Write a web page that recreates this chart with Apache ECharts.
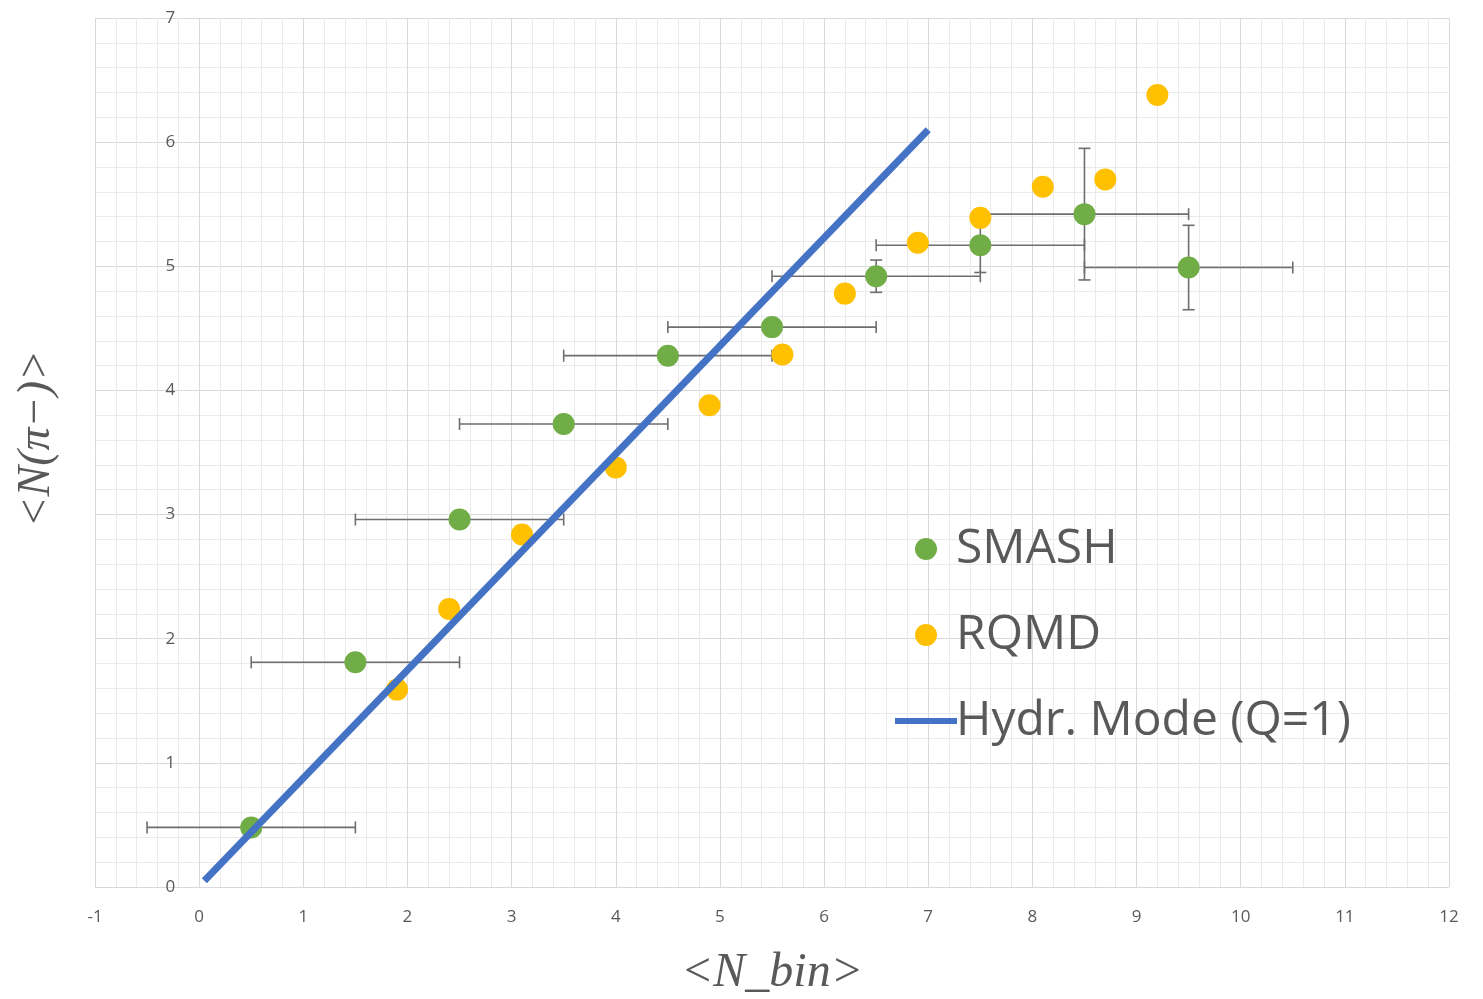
<!DOCTYPE html>
<html>
<head>
<meta charset="utf-8">
<script src="https://cdn.jsdelivr.net/npm/echarts@6/dist/echarts.min.js"></script>
<style>
html, body { margin: 0; padding: 0; background: #fff; }
#chart { width: 1483px; height: 999px; }
</style>
</head>
<body>
<div id="chart"></div>
<script>
// SMASH: bin centres, <N(pi-)>, x and y errors
var smashX = [0.5, 1.5, 2.5, 3.5, 4.5, 5.5, 6.5, 7.5, 8.5, 9.5];
var smashY = [0.48, 1.81, 2.96, 3.73, 4.28, 4.51, 4.92, 5.17, 5.42, 4.99];
var smashXErr = [1, 1, 1, 1, 1, 1, 1, 1, 1, 1];
var smashYErr = [0, 0, 0, 0, 0, 0, 0.13, 0.22, 0.53, 0.34];

// RQMD
var rqmdX = [1.9, 2.4, 3.1, 4.0, 4.9, 5.6, 6.2, 6.9, 7.5, 8.1, 8.7, 9.2];
var rqmdY = [1.59, 2.24, 2.84, 3.38, 3.88, 4.29, 4.78, 5.19, 5.39, 5.64, 5.70, 6.38];

// hydro model line
var hydroX = [0.05, 7];
var hydroY = [0.05, 6.1];

var myChart = echarts.init(document.getElementById('chart'));

var zip = function (xs, ys) {
    return xs.map(function (x, i) { return [x, ys[i]]; });
};
var errData = smashX.map(function (x, i) {
    return [x, smashY[i], smashXErr[i], smashYErr[i]];
});

var txt = '#595959';
var font = '"Open Sans", sans-serif';
var serif = '"Liberation Serif", "DejaVu Serif", serif';

// y axis sits on x = 0, one x-unit in from the left edge of the grid
var gridW = 1483 - 95 - 34;
var yAxisShift = gridW / 13;

option = {
    animation: false,
    backgroundColor: '#fff',
    grid: { left: 95, right: 34, top: 18, bottom: 112, outerBoundsMode: 'none', containLabel: false },
    legend: {
        orient: 'vertical',
        left: 887,
        top: 520,
        itemWidth: 62,
        itemHeight: 22,
        itemGap: 38,
        textStyle: { color: txt, fontSize: 48, fontFamily: font, padding: [0, 0, 0, -6] },
        data: [
            'SMASH',
            'RQMD',
            { name: 'Hydr. Mode (Q=1)', itemStyle: { opacity: 0 }, lineStyle: { width: 6 } }
        ]
    },
    xAxis: {
        type: 'value',
        min: -1, max: 12, interval: 1,
        name: '<N_bin>',
        nameLocation: 'middle',
        nameGap: 62,
        nameTextStyle: { color: txt, fontSize: 48, fontStyle: 'italic', fontFamily: serif },
        axisLine: { show: false },
        axisTick: { show: false },
        axisLabel: { color: txt, fontSize: 17, margin: 22, fontFamily: font },
        splitLine: { lineStyle: { color: '#d9d9d9', width: 1 } },
        minorTick: { show: false, splitNumber: 5 },
        minorSplitLine: { show: true, lineStyle: { color: '#eaeaea', width: 1 } }
    },
    yAxis: {
        type: 'value',
        min: 0, max: 7, interval: 1,
        position: 'left',
        offset: -yAxisShift,
        axisLine: { show: false, onZero: false },
        axisTick: { show: false },
        axisLabel: { color: txt, fontSize: 17, margin: 24, fontFamily: font },
        splitLine: { lineStyle: { color: '#d9d9d9', width: 1 } },
        minorTick: { show: false, splitNumber: 5 },
        minorSplitLine: { show: true, lineStyle: { color: '#eaeaea', width: 1 } }
    },
    graphic: [{
        type: 'text',
        left: 14,
        top: 350,
        rotation: Math.PI / 2,
        style: {
            text: '<N(\u03c0\u2212)>',
            fill: txt,
            font: 'italic 46px "Liberation Serif", "DejaVu Serif", serif'
        }
    }],
    series: [
        {
            type: 'custom',
            name: 'err',
            z: 1,
            renderItem: function (params, api) {
                var x = api.value(0), y = api.value(1), xe = api.value(2), ye = api.value(3);
                var st = { stroke: '#6e6e6e', lineWidth: 1.6 };
                var l = api.coord([x - xe, y]), r = api.coord([x + xe, y]);
                var kids = [
                    { type: 'line', shape: { x1: l[0], y1: l[1], x2: r[0], y2: r[1] }, style: st },
                    { type: 'line', shape: { x1: l[0], y1: l[1] - 6, x2: l[0], y2: l[1] + 6 }, style: st },
                    { type: 'line', shape: { x1: r[0], y1: r[1] - 6, x2: r[0], y2: r[1] + 6 }, style: st }
                ];
                if (ye > 0) {
                    var t = api.coord([x, y + ye]), b = api.coord([x, y - ye]);
                    kids.push(
                        { type: 'line', shape: { x1: t[0], y1: t[1], x2: b[0], y2: b[1] }, style: st },
                        { type: 'line', shape: { x1: t[0] - 6, y1: t[1], x2: t[0] + 6, y2: t[1] }, style: st },
                        { type: 'line', shape: { x1: b[0] - 6, y1: b[1], x2: b[0] + 6, y2: b[1] }, style: st }
                    );
                }
                return { type: 'group', children: kids };
            },
            data: errData
        },
        {
            name: 'SMASH',
            type: 'scatter',
            z: 2,
            symbolSize: 22,
            itemStyle: { color: '#70ad47', opacity: 1 },
            data: zip(smashX, smashY)
        },
        {
            name: 'RQMD',
            type: 'scatter',
            z: 3,
            symbolSize: 22,
            itemStyle: { color: '#ffc000', opacity: 1 },
            data: zip(rqmdX, rqmdY)
        },
        {
            name: 'Hydr. Mode (Q=1)',
            type: 'line',
            z: 4,
            showSymbol: false,
            symbol: 'none',
            lineStyle: { color: '#4472c4', width: 7 },
            itemStyle: { color: '#4472c4' },
            data: zip(hydroX, hydroY)
        }
    ]
};
myChart.setOption(option);
</script>
</body>
</html>
